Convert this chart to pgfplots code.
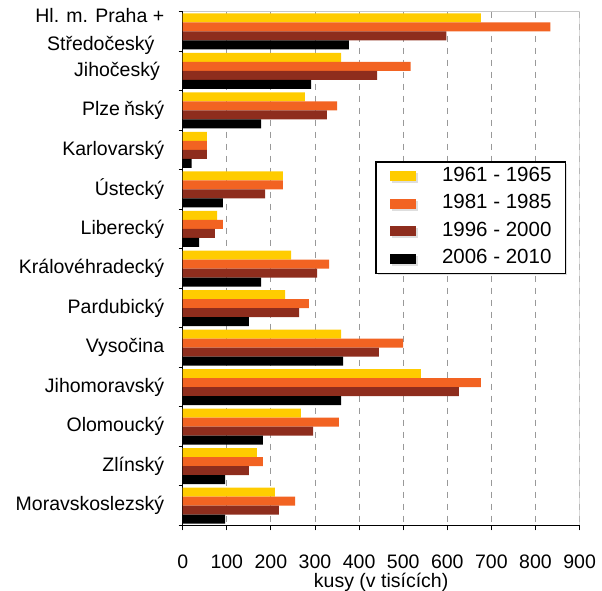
\documentclass[border=0pt]{standalone}
\usepackage{fontspec}
\setmainfont{Liberation Sans}
\usepackage{pgfplots}
\usepackage{pgfplotstable}
\pgfplotsset{compat=1.18}
\usetikzlibrary{shadows}

\definecolor{cyellow}{HTML}{FFCC00}
\definecolor{corange}{HTML}{F26322}
\definecolor{cbrown}{HTML}{8E2D1D}
\definecolor{cgrid}{HTML}{999999}
\definecolor{cframe}{HTML}{C8C8C8}

% kusy v tisicich, kraje shora dolu
\pgfplotstableread{
idx a b c d
0 676 834 598 377
1 359 517 441 291
2 277 350 327 178
3 55 55 55 20
4 227 227 187 91
5 78 91 73 37
6 246 332 305 178
7 232 286 264 150
8 359 500 445 364
9 540 676 626 359
10 268 354 296 182
11 168 182 150 96
12 209 255 218 96
}\kraje

\begin{document}
\begin{tikzpicture}
\path[use as bounding box] (0,0) rectangle (602bp,591bp);
\begin{axis}[
  at={(182.7bp,65.7bp)}, anchor=south west,
  scale only axis, width=396.9bp, height=513.6bp,
  xbar, bar width=9bp,
  xmin=0, xmax=900, ymin=-0.5, ymax=12.5, y dir=reverse,
  xtick={0,100,...,900},
  ytick={0,...,12},
  yticklabels={{Hl. m. Praha +\\Středočeský\phantom{x}}, Jihočeský\phantom{i}, Plze\kern4bp ňský, Karlovarský, Ústecký, Liberecký, Královéhradecký, Pardubický, Vysočina, Jihomoravský, Olomoucký, Zlínský, Moravskoslezský},
  minor ytick={-0.5,0.5,...,12.5},
  tick align=outside,
  major tick length=5bp, minor tick length=4bp,
  major y tick style={draw=none},
  minor y tick style={black, line width=0.8bp},
  major x tick style={black, line width=0.8bp},
  axis x line*=bottom, axis y line*=left,
  axis line style={black, line width=1bp},
  xmajorgrids,
  major x grid style={cgrid, dash pattern=on 6bp off 6bp, line width=0.8bp},
  /pgf/number format/assume math mode=true,
  ticklabel style={font=\fontsize{19.5bp}{28bp}\selectfont},
  yticklabel style={align=right, xshift=-10bp},
  xticklabel style={yshift=-21bp, inner xsep=0bp},
  xlabel={kusy (v tisících)},
  xlabel style={font=\fontsize{19.5bp}{22bp}\selectfont, yshift=2bp},
  every axis plot post/.append style={legend image code/.code={\fill[##1] (0bp,-5bp) rectangle (26bp,5bp);}},
  legend style={at={(axis cs:436.7,3.28)}, anchor=north west, draw=black, line width=1.5bp,
    fill=white, inner xsep=14bp, inner ysep=1bp, row sep=0bp,
    font=\fontsize{20.5bp}{24bp}\selectfont,
    drop shadow={shadow xshift=2bp, shadow yshift=-2bp, fill=black!25},
    nodes={inner xsep=0bp, inner ysep=4.7bp, text height=14bp, text depth=4bp},
    /tikz/every odd column/.style={column sep=26bp}},
  legend cell align=left,
]
\addplot[fill=cyellow, draw=none, bar shift=13.5bp] table[x=a, y=idx] {\kraje};
\addlegendentry{1961 - 1965}
\addplot[fill=corange, draw=none, bar shift=4.5bp] table[x=b, y=idx] {\kraje};
\addlegendentry{1981 - 1985}
\addplot[fill=cbrown, draw=none, bar shift=-4.5bp] table[x=c, y=idx] {\kraje};
\addlegendentry{1996 - 2000}
\addplot[fill=black, draw=none, bar shift=-13.5bp] table[x=d, y=idx] {\kraje};
\addlegendentry{2006 - 2010}
\draw[cframe, line width=1.2bp] (axis cs:0,-0.5) -- (axis cs:900,-0.5) -- (axis cs:900,12.5);
\end{axis}
\end{tikzpicture}
\end{document}
